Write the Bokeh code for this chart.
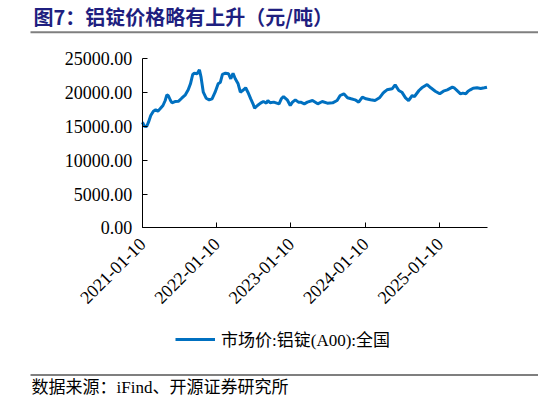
from math import pi
import pandas as pd
from bokeh.plotting import figure
from bokeh.models import (ColumnDataSource, Range1d, FixedTicker, PrintfTickFormatter,
                          DatetimeTickFormatter, Legend, LegendItem, Label, BoxAnnotation)
from bokeh.embed import file_html
from bokeh.resources import INLINE

title_text = "图7：铝锭价格略有上升（元/吨）"
series_name = "市场价:铝锭(A00):全国"
source_text = "数据来源：iFind、开源证券研究所"

dates = [
    "2021-01-11", "2021-01-21", "2021-02-01", "2021-02-10", "2021-02-21", "2021-03-06",
    "2021-03-17", "2021-03-28", "2021-04-08", "2021-04-22", "2021-05-03", "2021-05-11",
    "2021-05-18", "2021-05-29", "2021-06-05", "2021-06-20", "2021-07-08", "2021-07-23",
    "2021-08-10", "2021-08-24", "2021-09-04", "2021-09-15", "2021-09-23", "2021-10-07",
    "2021-10-18", "2021-10-26", "2021-11-06", "2021-11-20", "2021-12-05", "2021-12-19",
    "2022-01-03", "2022-01-18", "2022-01-29", "2022-02-08", "2022-02-23", "2022-03-10",
    "2022-03-21", "2022-04-01", "2022-04-12", "2022-04-26", "2022-05-07", "2022-05-18",
    "2022-06-02", "2022-06-13", "2022-06-27", "2022-07-08", "2022-07-16", "2022-07-30",
    "2022-08-14", "2022-08-28", "2022-09-12", "2022-09-19", "2022-09-30", "2022-10-18",
    "2022-11-13", "2022-11-24", "2022-12-05", "2022-12-23", "2023-01-07", "2023-01-18",
    "2023-02-01", "2023-02-16", "2023-02-27", "2023-03-17", "2023-04-01", "2023-04-26",
    "2023-05-22", "2023-06-13", "2023-07-08", "2023-08-03", "2023-08-25", "2023-09-09",
    "2023-09-27", "2023-10-15", "2023-11-02", "2023-11-21", "2023-12-09", "2023-12-27",
    "2024-01-14", "2024-02-05", "2024-02-27", "2024-03-20", "2024-04-04", "2024-04-11",
    "2024-04-26", "2024-05-21", "2024-06-05", "2024-06-23", "2024-07-08", "2024-07-26",
    "2024-08-10", "2024-08-28", "2024-09-08", "2024-09-30", "2024-10-14", "2024-11-09",
    "2024-11-27", "2024-12-19", "2025-01-10", "2025-01-28", "2025-02-16", "2025-03-13",
    "2025-03-24", "2025-04-08", "2025-04-22", "2025-05-03", "2025-05-18", "2025-05-29",
    "2025-06-09", "2025-06-23", "2025-07-12", "2025-07-30", "2025-08-17", "2025-08-30",
]
prices = [
    15620, 15030, 14985, 15620, 16610, 17250,
    17450, 17250, 17600, 18090, 18830, 19670,
    19570, 18830, 18490, 18680, 18730, 19170,
    19670, 20410, 21300, 22680, 22870, 22780,
    23370, 22280, 20060, 19170, 18930, 19080,
    20060, 21300, 21540, 22680, 22870, 22780,
    22040, 22870, 22040, 21300, 20060, 20310,
    20710, 20060, 19080, 18340, 17690, 18090,
    18440, 18680, 18440, 18830, 18490, 18590,
    18340, 19080, 19420, 18930, 18090, 18590,
    18930, 18590, 18590, 18340, 18590, 18830,
    18340, 18680, 18440, 18490, 18830, 19570,
    19820, 19230, 19080, 18930, 18590, 19320,
    19080, 18930, 18830, 19230, 19820, 20060,
    20410, 20560, 21150, 20310, 20060, 19230,
    18830, 19570, 19420, 20310, 20710, 21190,
    20710, 20210, 19820, 20210, 20410, 20800,
    20650, 20210, 19820, 19920, 19820, 20210,
    20410, 20650, 20710, 20600, 20710, 20800,
]
x_tick_dates = ["2021-01-10", "2022-01-10", "2023-01-10", "2024-01-10", "2025-01-10"]
y_ticks = [0, 5000, 10000, 15000, 20000, 25000]
x_start, x_end = "2021-01-10", "2025-08-31"
y_min, y_max = 0, 25000

# ---- layout (pixels, from the top-left of the figure)
W, H = 538, 397
AX_LEFT, AX_RIGHT = 141.7, 486.7      # x of axis start / end
AX_TOP, AX_BOTTOM = 58.3, 227.3       # y of 25000 / 0

ms = lambda d: pd.Timestamp(d).value / 1e6
x0, x1 = ms(x_start), ms(x_end)
ms_per_px = (x1 - x0) / (AX_RIGHT - AX_LEFT)
val_per_px = (y_max - y_min) / (AX_BOTTOM - AX_TOP)
x_range = Range1d(x0 - AX_LEFT * ms_per_px, x0 + (W - AX_LEFT) * ms_per_px)
y_range = Range1d(y_min - (H - AX_BOTTOM) * val_per_px, y_min + AX_BOTTOM * val_per_px)

src = ColumnDataSource(dict(date=pd.to_datetime(dates), price=prices))
p = figure(width=W, height=H, x_axis_type="datetime", output_backend="svg",
           toolbar_location=None, title=None, x_range=x_range, y_range=y_range,
           min_border=0, min_border_left=0, min_border_right=0,
           min_border_top=0, min_border_bottom=0)
p.outline_line_color = None
p.grid.visible = False
p.background_fill_color = "white"
p.border_fill_color = "white"

r = p.line(x="date", y="price", source=src, line_color="#0070C0", line_width=3)

serif = "'Liberation Serif', 'Noto Sans CJK SC'"

yax = p.yaxis[0]
yax.fixed_location = x0
yax.bounds = (y_min, y_max)
yax.ticker = FixedTicker(ticks=y_ticks)
yax.formatter = PrintfTickFormatter(format="%.2f")
xax = p.xaxis[0]
xax.fixed_location = y_min
xax.bounds = (x0, x1)
xax.ticker = FixedTicker(ticks=[ms(d) for d in x_tick_dates])
fmt = "%Y-%m-%d"
xax.formatter = DatetimeTickFormatter(milliseconds=fmt, seconds=fmt, minsec=fmt, minutes=fmt,
                                      hourmin=fmt, hours=fmt, days=fmt, months=fmt, years=fmt)
xax.major_label_orientation = pi / 4
for ax in (xax, yax):
    ax.axis_line_color = "black"
    ax.axis_line_width = 1
    ax.major_tick_in = 5
    ax.major_tick_out = 0
    ax.major_tick_line_color = "black"
    ax.minor_tick_line_color = None
    ax.major_label_text_font = serif
    ax.major_label_text_font_size = "18px"
    ax.major_label_text_color = "black"
yax.major_label_standoff = 10
xax.major_label_standoff = 13

# legend (screen units from the bottom-left of the frame = figure)
legend = Legend(items=[LegendItem(label=series_name, renderers=[r])],
                location=(175, H - 351), orientation="horizontal",
                glyph_width=40, glyph_height=22, label_height=22, label_standoff=6,
                padding=0, margin=0, border_line_color=None, background_fill_alpha=0,
                label_text_font=serif, label_text_font_size="17px", label_text_color="black")
p.add_layout(legend, "center")

# title, rules and source
p.add_layout(Label(x=33, y=H - 16, x_units="screen", y_units="screen", text=title_text,
                   text_font="Noto Sans CJK SC", text_font_style="bold", text_font_size="20px",
                   text_color="#1F1F80", text_baseline="middle", text_align="left"))
p.add_layout(BoxAnnotation(left=30, right=W, bottom=H - 32.7, top=H - 30.7,
                           left_units="screen", right_units="screen",
                           bottom_units="screen", top_units="screen",
                           fill_color="#7F7F7F", fill_alpha=1, line_color=None))
p.add_layout(BoxAnnotation(left=30, right=W, bottom=H - 375, top=H - 374,
                           left_units="screen", right_units="screen",
                           bottom_units="screen", top_units="screen",
                           fill_color="#000000", fill_alpha=1, line_color=None))
p.add_layout(Label(x=31, y=H - 386.5, x_units="screen", y_units="screen", text=source_text,
                   text_font=serif, text_font_size="17px",
                   text_color="black", text_baseline="middle", text_align="left"))

open("out.html", "w").write(file_html(p, INLINE))
